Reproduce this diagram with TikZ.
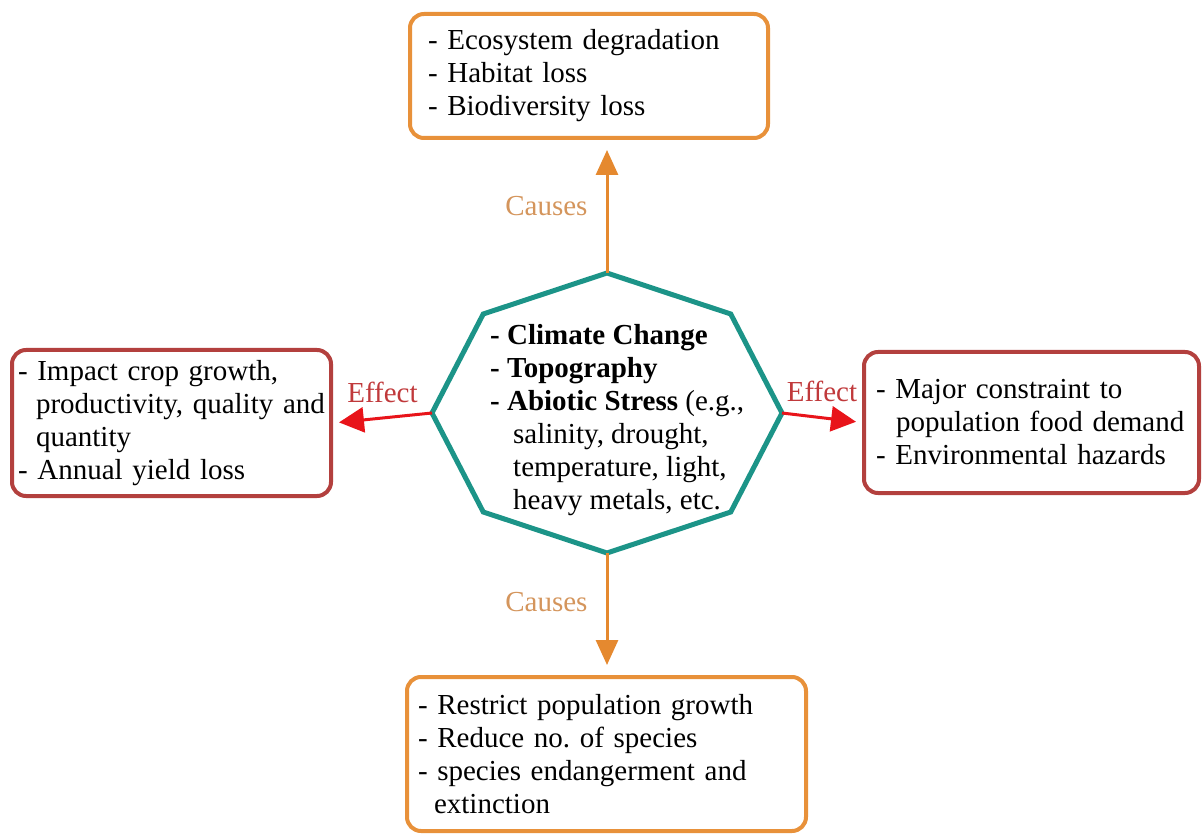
\documentclass[tikz,border=0pt]{standalone}
\usepackage{fontspec}
\setmainfont{Liberation Serif}
\usetikzlibrary{arrows.meta,positioning,calc}
\definecolor{boxorange}{HTML}{E8913A}
\definecolor{boxred}{HTML}{B3403E}
\definecolor{hubteal}{HTML}{1C9488}
\definecolor{arroworange}{HTML}{E5892F}
\definecolor{arrowred}{HTML}{E8141A}
\definecolor{labelorange}{HTML}{D4955C}
\definecolor{labelred}{HTML}{C0393B}
\frenchspacing
\newcommand{\diagfont}{\fontsize{29}{33}\selectfont}
\tikzstyle{causebox}=[draw=boxorange,line width=4pt,rounded corners=14pt,align=left,font=\diagfont,inner ysep=0pt]
\tikzstyle{effectbox}=[draw=boxred,line width=4pt,rounded corners=14pt,align=left,font=\diagfont,inner ysep=0pt]
\tikzstyle{causearrow}=[draw=arroworange,line width=3pt,-{Triangle[width=22pt,length=25pt]}]
\tikzstyle{effectarrow}=[draw=arrowred,line width=3pt,-{Triangle[width=25pt,length=25pt]}]
\tikzstyle{causelabel}=[text=labelorange,font=\diagfont,inner sep=0pt]
\tikzstyle{effectlabel}=[text=labelred,font=\diagfont,inner sep=0pt]

\begin{document}
\begin{tikzpicture}[x=1pt,y=-1pt]
    \useasboundingbox (0,0) rectangle (1203,834);
    \foreach \a [count=\i] in {0,45,...,315}
      \coordinate (o\i) at ($(607,413)+(\a:175 and 140)$);
    \draw [hubteal,line width=5pt] (o1) -- (o2) -- (o3) -- (o4) -- (o5) -- (o6) -- (o7) -- (o8) -- cycle;
    \node [align=left,font=\diagfont,inner sep=0pt,anchor=west] (hub) at (490,420)
      {\bfseries - Climate Change\\
       \bfseries - Topography\\
       {\bfseries - Abiotic Stress} (e.g.,\\
       \hspace*{23pt}salinity, drought,\\
       \hspace*{23pt}temperature, light,\\
       \hspace*{23pt}heavy metals, etc.};
    \node [causebox,text width=322pt,inner xsep=18pt,minimum width=358pt,minimum height=124pt] (habitat) at (589,76)
      {- Ecosystem degradation\\
       - Habitat loss\\
       - Biodiversity loss};
    \node [effectbox,text width=307pt,inner xsep=6pt,minimum width=319pt,minimum height=146pt] (crop) at (171.5,423)
      {- Impact crop growth,\\
       \hspace*{18pt}productivity, quality and\\
       \hspace*{18pt}quantity\\
       - Annual yield loss};
    \node [effectbox,text width=311pt,inner xsep=12pt,minimum width=335pt,minimum height=141pt] (food) at (1031.5,422.5)
      {- Major constraint to\\
       \hspace*{20pt}population food demand\\
       - Environmental hazards};
    \node [causebox,text width=377pt,inner xsep=11pt,minimum width=399pt,minimum height=154pt] (species) at (606.5,754)
      {- Restrict population growth\\
       - Reduce no. of species\\
       - species endangerment and\\
       \hspace*{16pt}extinction};
    \draw [causearrow,shorten >=10pt] (o7) -- (o7 |- habitat.south)
      node [causelabel,midway,left=18pt] (causeup) {Causes};
    \draw [causearrow,shorten >=10pt] (o3) -- (o3 |- species.north)
      node [causelabel,pos=0.4,left=18pt] (causedown) {Causes};
    \draw [effectarrow,shorten >=6pt] (o5) -- (crop.east)
      node [effectlabel,midway,above=14pt] (effectleft) {Effect};
    \draw [effectarrow,shorten >=6pt] (o1) -- (food.west)
      node [effectlabel,midway,above=14pt] (effectright) {Effect};
\end{tikzpicture}
\end{document}
